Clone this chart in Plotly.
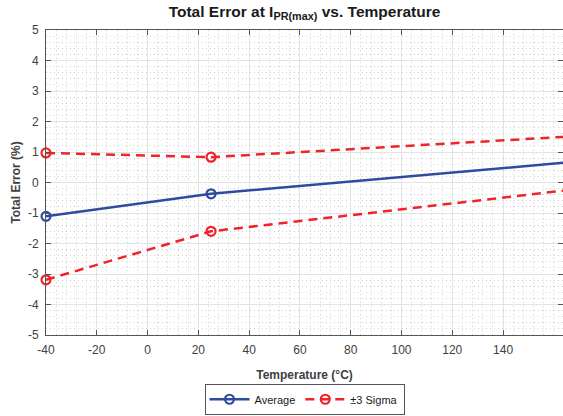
import plotly.graph_objects as go

# Temperature sweep points (°C) and total error (%) at I_PR(max)
temperature = [-40, 25, 175]
average = [-1.11, -0.37, 0.73]
sigma_upper = [0.97, 0.83, 1.55]
sigma_lower = [-3.19, -1.60, -0.16]

x_ticks = [-40, -20, 0, 20, 40, 60, 80, 100, 120, 140]
y_ticks = [-5, -4, -3, -2, -1, 0, 1, 2, 3, 4, 5]

BLUE = "#2f4b9e"
RED = "#f0222a"
TXT = "#404040"
FONT = "Liberation Sans, Arial, sans-serif"

fig = go.Figure()

fig.add_trace(go.Scatter(
    x=temperature, y=average, name="Average", mode="lines+markers",
    line=dict(color=BLUE, width=2.5),
    marker=dict(symbol="circle-open", size=9, color=BLUE, line=dict(width=2.2, color=BLUE)),
    cliponaxis=False,
))
fig.add_trace(go.Scatter(
    x=temperature, y=sigma_upper, name="±3 Sigma", mode="lines+markers",
    line=dict(color=RED, width=2.5, dash="9px,6px"),
    marker=dict(symbol="circle-open", size=9, color=RED, line=dict(width=2.2, color=RED)),
    legendgroup="sigma", cliponaxis=False,
))
fig.add_trace(go.Scatter(
    x=temperature, y=sigma_lower, name="±3 Sigma", mode="lines+markers",
    line=dict(color=RED, width=2.5, dash="9px,6px"),
    marker=dict(symbol="circle-open", size=9, color=RED, line=dict(width=2.2, color=RED)),
    legendgroup="sigma", showlegend=False, cliponaxis=False,
))

axis_common = dict(
    showline=True, linecolor="#555555", linewidth=1, mirror="ticks",
    ticks="inside", ticklen=5, tickcolor="#555555",
    showgrid=True, gridcolor="#e3e3e3", gridwidth=1,
    zeroline=False,
    tickfont=dict(family=FONT, size=12, color=TXT),
)

fig.update_xaxes(
    **axis_common,
    range=[-40, 163.6], tickvals=x_ticks, ticktext=[str(v) for v in x_ticks],
    ticklabelstandoff=4,
    minor=dict(dtick=4, tick0=-40, showgrid=True, gridcolor="#d0d0d0", griddash="1px,3px", gridwidth=1),
    title=dict(text="<b>Temperature (°C)</b>", font=dict(family=FONT, size=12, color=TXT), standoff=14),
)
fig.update_yaxes(
    **axis_common,
    range=[-5, 5], tickvals=y_ticks, ticktext=[str(v) for v in y_ticks],
    ticklabelstandoff=4,
    minor=dict(dtick=0.2, tick0=-5, showgrid=True, gridcolor="#d0d0d0", griddash="1px,3px", gridwidth=1),
    title=dict(text="<b>Total Error (%)</b>", font=dict(family=FONT, size=12, color=TXT), standoff=4),
)

fig.update_layout(
    width=563, height=416,
    margin=dict(l=46, r=0, t=30, b=81, autoexpand=False),
    paper_bgcolor="white", plot_bgcolor="white",
    title=dict(
        text="<b>Total Error at I<sub>PR(max)</sub> vs. Temperature</b>",
        font=dict(family=FONT, size=15.5, color="#1a1a1a"),
        xref="paper", x=0.5, xanchor="center",
        yref="container", y=0.985, yanchor="top",
    ),
    legend=dict(
        orientation="h", xref="paper", x=0.5, xanchor="center",
        yref="container", y=0.003, yanchor="bottom",
        bordercolor="#555555", borderwidth=1, bgcolor="white",
        font=dict(family=FONT, size=11, color="#1a1a1a"),
        itemwidth=40, tracegroupgap=0,
    ),
    showlegend=True,
)

fig.write_html("out.html")
